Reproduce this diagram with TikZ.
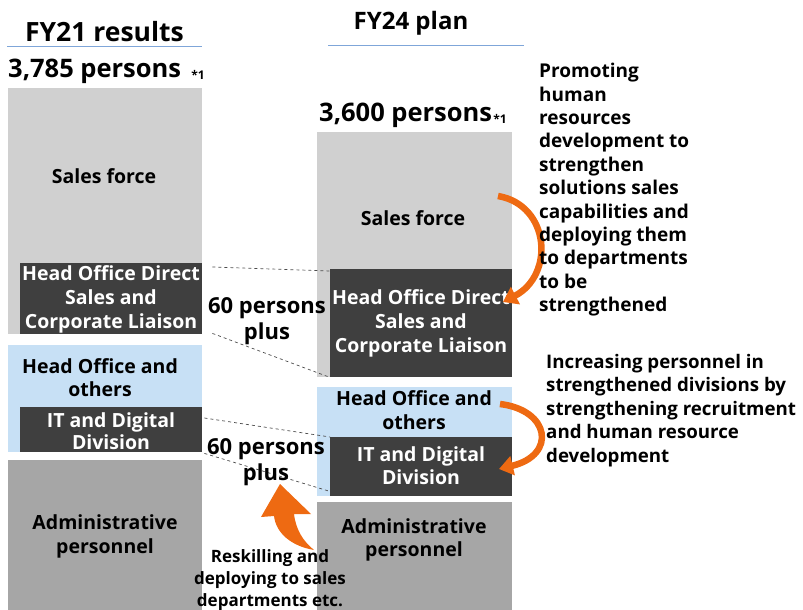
\documentclass[tikz,border=0pt]{standalone}
\usepackage{fontspec}
\setmainfont{Open Sans}
\usetikzlibrary{arrows.meta,calc}
\definecolor{salesgray}{HTML}{D0D0D0}
\definecolor{darkbox}{HTML}{3F3F3F}
\definecolor{paleblue}{HTML}{C7E0F5}
\definecolor{admingray}{HTML}{A6A6A6}
\definecolor{rulblue}{HTML}{7FA6D9}
\definecolor{arrorange}{HTML}{EE6A12}
\begin{document}
\begin{tikzpicture}[x=1pt,y=-1pt,
  blk/.style={draw=none,inner sep=0pt,anchor=north west},
  lbl/.style={font=\fontsize{19.5}{24}\selectfont\bfseries,align=center,inner sep=0pt},
  wlbl/.style={lbl,text=white},
  head/.style={font=\fontsize{25.5}{28}\selectfont\bfseries,inner sep=0pt},
  star/.style={font=\fontsize{12}{13}\selectfont\bfseries,inner sep=0pt},
  gain/.style={lbl,font=\fontsize{22}{26}\selectfont\bfseries},
  note/.style={font=\fontsize{19}{23.4}\selectfont\bfseries,align=left,inner sep=0pt,anchor=north west},
  gap/.style={draw=black!70,dashed,line width=0.7pt},
  swing/.style={draw=arrorange,line width=6.5pt,-{Triangle[length=14pt,width=19pt]}}
]
\useasboundingbox (0,0) rectangle (803,610);

% column headings
\node[head,font=\fontsize{26.5}{28}\selectfont\bfseries] (t21) at (104.5,32) {FY21 results};
\draw[rulblue,line width=0.8pt] (7,46) -- (202,46);
\node[head,font=\fontsize{24}{28}\selectfont\bfseries] (t24) at (411,23) {FY24 plan};
\draw[rulblue,line width=0.8pt] (328,45) -- (524,45);

\node[head,anchor=west] (n21) at (8,71) {3,785 persons};
\node[star] (s21) at (198,75) {*1};
\node[head,anchor=west] (n24) at (319,115) {3,600 persons};
\node[star] (s24) at (500,119) {*1};

% FY21 stack
\node[blk,fill=salesgray,minimum width=194,minimum height=246] (lsales) at (8,88) {};
\node[blk,fill=darkbox,minimum width=182,minimum height=71] (lhod) at (20,263) {};
\node[wlbl] (lhodt) at (111,299) {Head Office Direct\\Sales and\\Corporate Liaison};
\node[lbl] (lsalest) at (104,176) {Sales force};
\node[blk,fill=paleblue,minimum width=194,minimum height=107] (lho) at (8,345) {};
\node[lbl,font=\fontsize{19.5}{23}\selectfont\bfseries] (lhot) at (100,378) {Head Office and\\others};
\node[blk,fill=darkbox,minimum width=182,minimum height=45] (lit) at (20,407) {};
\node[wlbl,font=\fontsize{19.5}{22}\selectfont\bfseries] (litt) at (111,431) {IT and Digital\\Division};
\node[blk,fill=admingray,minimum width=194,minimum height=150] (ladm) at (8,460) {};
\node[lbl] (ladmt) at (105,536) {Administrative\\personnel};

% FY24 stack
\node[blk,fill=salesgray,minimum width=195,minimum height=245] (rsales) at (317,132) {};
\node[lbl] (rsalest) at (413,218) {Sales force};
\node[blk,fill=darkbox,minimum width=182,minimum height=108] (rhod) at (330,269) {};
\node[wlbl] (rhodt) at (421,323) {Head Office Direct\\Sales and\\Corporate Liaison};
\node[blk,fill=paleblue,minimum width=195,minimum height=109] (rho) at (317,387) {};
\node[lbl] (rhot) at (414,410) {Head Office and\\others};
\node[blk,fill=darkbox,minimum width=182,minimum height=59] (rit) at (330,437) {};
\node[wlbl,font=\fontsize{19.5}{23}\selectfont\bfseries] (ritt) at (421,466) {IT and Digital\\Division};
\node[blk,fill=admingray,minimum width=195,minimum height=108] (radm) at (317,502) {};
\node[lbl,font=\fontsize{19.5}{23}\selectfont\bfseries] (radmt) at (414,540) {Administrative\\personnel};

% links between the two stacks
\draw[gap] ($(lhod.north east)+(10,4)$) -- ($(rhod.north west)+(0,2)$);
\draw[gap] ($(lhod.south east)+(10,-1)$) -- (rhod.south west);
\draw[gap] ($(lit.north east)+(2,11)$) -- (rit.north west);
\draw[gap] ($(lit.south east)+(2,1)$) -- ($(rit.south west)+(0,-5)$);

\node[gain] (p1) at (267,321) {60 persons\\plus};
\node[gain] (p2) at (266,462) {60 persons\\plus};

% orange transfer arrows
\coordinate (a1s) at (498,196);
\coordinate (a1e) at (503,302);
\draw[swing] (a1s) .. controls (550,205) and (555,275) .. (a1e);
\coordinate (a2s) at (500,404);
\coordinate (a2e) at (499,469);
\draw[swing] (a2s) .. controls (550,410) and (557,455) .. (a2e);

\fill[arrorange] (280,484) -- (311,514) -- (294,514)
  .. controls (296,530) and (303,541) .. (314,550)
  .. controls (291,546) and (276,533) .. (274,516) -- (261,517) -- cycle;

\node[lbl,font=\fontsize{17}{22}\selectfont\bfseries] (resk) at (270,580) {Reskilling and\\deploying to sales\\departments etc.};

% side notes
\node[note] (note1) at (539,63) {Promoting\\human\\resources\\development to\\strengthen\\solutions sales\\capabilities and\\deploying them\\to departments\\to be\\strengthened};
\node[note,font=\fontsize{18.7}{23.5}\selectfont\bfseries] (note2) at (546,354) {Increasing personnel in\\strengthened divisions by\\strengthening recruitment\\and human resource\\development};
\end{tikzpicture}
\end{document}
